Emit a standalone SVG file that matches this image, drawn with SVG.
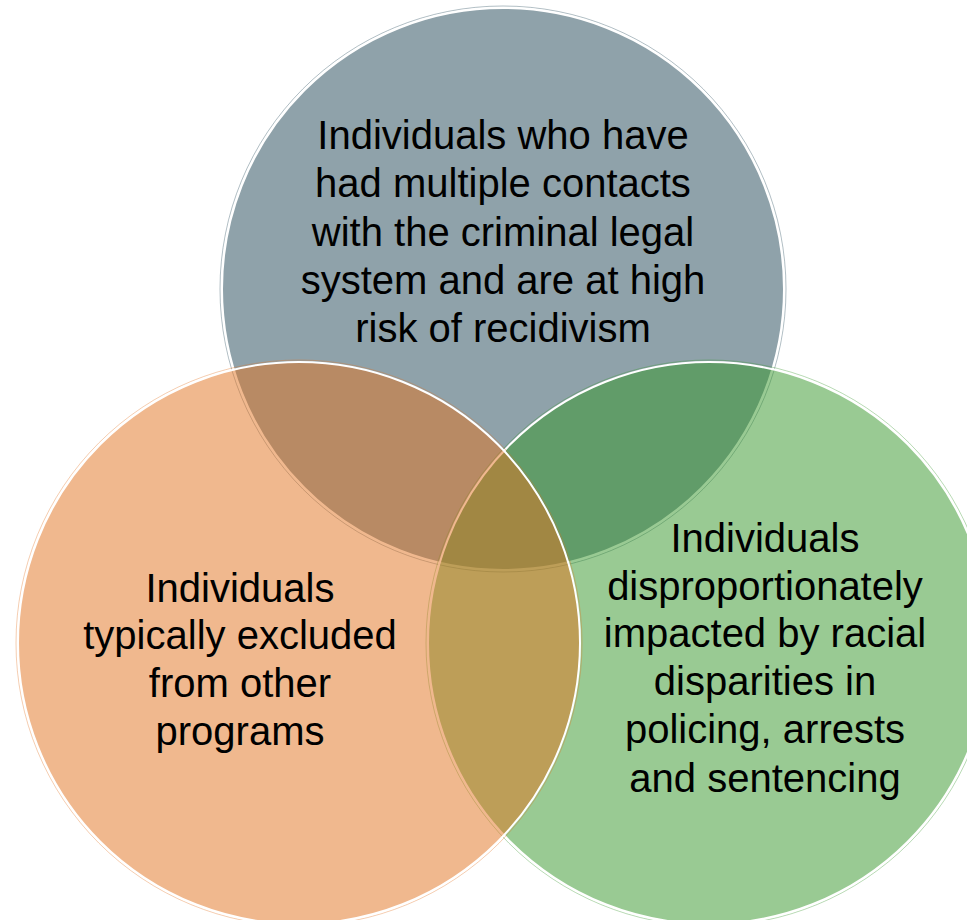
<svg xmlns="http://www.w3.org/2000/svg" width="967" height="920" viewBox="0 0 967 920">
  <style>
    .fill { stroke: none; fill-opacity: 0.5; }
    .ring { fill: none; stroke-width: 1; stroke-opacity: 0.35; }
    .edge { fill: none; stroke: #ffffff; stroke-width: 2; }
    .label { font-family: "Liberation Sans", Arial, sans-serif; font-size: 40px; fill: #000000; text-anchor: middle; }
  </style>
  <rect x="0" y="0" width="967" height="920" fill="#ffffff"/>
  <g id="connectors"></g>
  <g id="node-top">
    <circle class="fill" cx="503" cy="289" r="281" fill="#1F4555"/>
    <circle class="ring" cx="503" cy="289" r="283" stroke="#1F4555"/>
    <circle class="edge" cx="503" cy="289" r="281"/>
    <text class="label" x="503" y="149">Individuals who have</text>
    <text class="label" x="503" y="197">had multiple contacts</text>
    <text class="label" x="503" y="246">with the criminal legal</text>
    <text class="label" x="503" y="294">system and are at high</text>
    <text class="label" x="503" y="342">risk of recidivism</text>
  </g>
  <g id="node-right">
    <circle class="fill" cx="709" cy="643" r="281" fill="#339527"/>
    <circle class="ring" cx="709" cy="643" r="283" stroke="#339527"/>
    <circle class="edge" cx="709" cy="643" r="281"/>
    <text class="label" x="765" y="552">Individuals</text>
    <text class="label" x="765" y="600">disproportionately</text>
    <text class="label" x="765" y="647">impacted by racial</text>
    <text class="label" x="765" y="695">disparities in</text>
    <text class="label" x="765" y="743">policing, arrests</text>
    <text class="label" x="765" y="792">and sentencing</text>
  </g>
  <g id="node-left">
    <circle class="fill" cx="299" cy="643" r="281" fill="#E1711D"/>
    <circle class="ring" cx="299" cy="643" r="283" stroke="#E1711D"/>
    <circle class="edge" cx="299" cy="643" r="281"/>
    <text class="label" x="240" y="602">Individuals</text>
    <text class="label" x="240" y="649">typically excluded</text>
    <text class="label" x="240" y="697">from other</text>
    <text class="label" x="240" y="745">programs</text>
  </g>
</svg>
